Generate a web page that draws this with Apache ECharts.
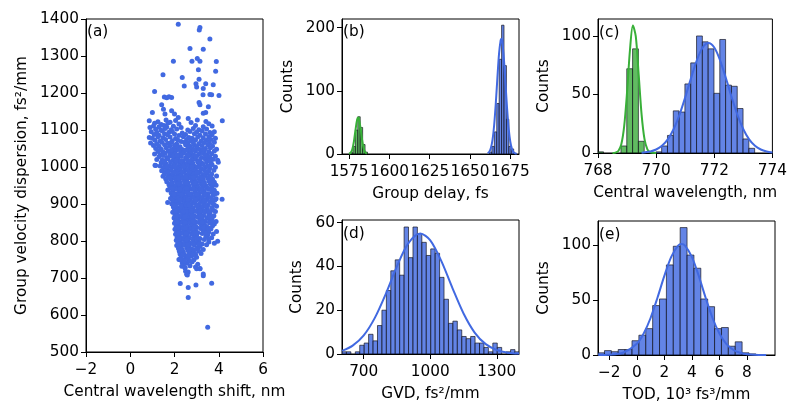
<!DOCTYPE html>
<html><head><meta charset="utf-8">
<script src="https://cdn.jsdelivr.net/npm/echarts@6/dist/echarts.min.js"></script>
<style>html,body{margin:0;padding:0;background:#fff}#c{width:790px;height:405px}</style>
</head><body><div id="c"></div>
<script>
// ---------- DATA ----------
// (a) scatter: central wavelength shift (nm) vs GVD (fs^2/mm)
const scatterOutliers = [[2.17,1386],[3.15,1377],[3.12,1370],[3.6,1346],[2.7,1320],[3.3,1318],[1.95,1286],[2.79,1286],[3.03,1293],[3.15,1286],[3.89,1285],[3.86,1259],[1.48,1249],[3.08,1263],[2.35,1242],[3.11,1237],[2.44,1219],[2.97,1225],[3.0,1216],[3.41,1225],[3.75,1222],[1.1,1204],[3.3,1212],[3.29,1195],[3.6,1196],[3.68,1195],[4.01,1193],[3.11,1174],[3.15,1168],[3.53,1163],[3.41,1147],[3.3,1145],[1.54,1189],[1.65,1187],[1.75,1190],[1.87,1188],[1.42,1168],[1.5,1156],[1.57,1143],[1.0,1147],[1.87,1152],[2.0,1143],[2.17,1134],[2.62,1131],[3.03,1127],[4.16,1125],[3.95,1018],[4.15,913],[1.69,904],[1.15,1004],[2.25,750],[2.33,732],[2.47,728],[2.55,710],[3.0,725],[3.15,725],[3.3,711],[2.26,685],[3.68,686],[2.62,674],[2.97,681],[2.62,647],[3.5,567]];
const scatterBody = [
[0.86,1125],[1.25,1122],[1.62,1127],[1.80,1121],[2.05,1126],[3.42,1123],
[1.10,1118],[1.40,1115],[1.70,1119],[2.20,1116],[2.75,1120],[3.55,1117],
[0.89,1107],[1.05,1111],[1.30,1109],[1.52,1112],[1.65,1108],[1.95,1110],[2.30,1107],[2.95,1112],[3.30,1109],[3.70,1111],
[1.15,1102],[1.38,1100],[1.58,1104],[1.85,1101],[2.10,1103],[2.60,1100],[2.85,1104],[3.10,1101],[3.45,1103],
[0.95,1095],[1.20,1093],[1.45,1097],[1.75,1094],[1.90,1096],[2.35,1092],[2.70,1096],[3.00,1094],[3.25,1097],[3.60,1093],[3.80,1095],
[1.08,1088],[1.30,1086],[1.55,1090],[1.68,1087],[2.00,1089],[2.20,1085],[2.50,1088],[2.90,1090],[3.15,1086],[3.40,1089],[3.70,1087],
[0.86,1080],[1.00,1078],[1.25,1082],[1.48,1079],[1.80,1081],[2.05,1077],[2.40,1082],[2.65,1080],[2.80,1078],[3.05,1081],[3.30,1079],[3.55,1082],[3.85,1078],
[1.12,1072],[1.35,1070],[1.60,1074],[1.90,1071],[2.15,1073],[2.30,1069],[2.55,1074],[2.75,1071],[2.95,1073],[3.20,1070],[3.45,1072],[3.65,1074],
[0.92,1065],[1.20,1063],[1.42,1067],[1.70,1064],[1.85,1066],[2.10,1062],[2.45,1067],[2.60,1064],[2.85,1066],[3.10,1063],[3.35,1066],[3.58,1064],[3.80,1067],
[1.05,1058],[1.30,1056],[1.55,1060],[1.78,1057],[2.00,1059],[2.25,1055],[2.50,1060],[2.70,1057],[2.90,1059],[3.00,1055],[3.25,1058],[3.50,1060],[3.72,1056],
[1.15,1050],[1.40,1048],[1.62,1052],[1.95,1049],[2.12,1051],[2.35,1047],[2.62,1052],[2.80,1049],[3.05,1051],[3.15,1047],[3.40,1050],[3.62,1052],[3.90,1048],
[1.25,1042],[1.50,1040],[1.72,1044],[1.88,1041],[2.05,1043],[2.28,1039],[2.45,1044],[2.68,1041],[2.95,1043],[3.20,1040],[3.35,1044],[3.55,1041],[3.80,1043],
[1.10,1035],[1.35,1033],[1.58,1037],[1.80,1034],[2.00,1036],[2.20,1032],[2.40,1037],[2.58,1034],[2.75,1036],[2.88,1032],[3.10,1035],[3.30,1037],[3.48,1033],[3.68,1036],
[1.30,1028],[1.65,1026],[1.85,1030],[2.08,1027],[2.30,1029],[2.50,1025],[2.65,1030],[2.85,1027],[3.00,1029],[3.22,1026],[3.42,1030],[3.60,1027],[3.85,1029],
[1.20,1020],[1.45,1018],[1.70,1022],[1.95,1019],[2.15,1021],[2.38,1017],[2.55,1022],[2.78,1019],[2.95,1021],[3.15,1018],[3.38,1022],[3.52,1019],[3.75,1021],
[1.40,1012],[1.60,1010],[1.82,1014],[2.02,1011],[2.22,1013],[2.45,1009],[2.60,1014],[2.82,1011],[3.05,1013],[3.25,1010],[3.45,1014],[3.65,1011],[3.98,1013],
[1.12,1005],[1.35,1003],[1.55,1007],[1.78,1004],[1.98,1006],[2.18,1002],[2.35,1007],[2.52,1004],[2.72,1006],[2.90,1002],[3.12,1005],[3.30,1007],[3.50,1003],[3.70,1006],
[1.50,998],[1.68,996],[1.90,1000],[2.10,997],[2.28,999],[2.48,995],[2.68,1000],[2.85,997],[3.00,999],[3.20,996],[3.40,1000],[3.60,997],[3.85,999],
[1.42,990],[1.62,988],[1.85,992],[2.05,989],[2.25,991],[2.42,987],[2.60,992],[2.78,989],[2.95,991],[3.15,988],[3.35,992],[3.55,989],[3.78,991],
[1.55,982],[1.75,980],[1.95,984],[2.15,981],[2.32,983],[2.52,979],[2.70,984],[2.88,981],[3.08,983],[3.28,980],[3.48,984],[3.68,981],
[1.48,975],[1.70,973],[1.92,977],[2.10,974],[2.28,976],[2.45,972],[2.62,977],[2.80,974],[2.98,976],[3.18,973],[3.38,977],[3.58,974],[3.90,976],
[1.60,968],[1.85,966],[2.02,970],[2.20,967],[2.38,969],[2.55,965],[2.72,970],[2.90,967],[3.10,969],[3.30,966],[3.50,970],[3.72,967],
[1.65,960],[1.90,958],[2.08,962],[2.25,959],[2.45,961],[2.62,957],[2.80,962],[2.98,959],[3.15,961],[3.35,958],[3.55,962],[3.80,959],
[1.75,952],[1.95,950],[2.12,954],[2.30,951],[2.48,953],[2.65,949],[2.85,954],[3.02,951],[3.22,953],[3.42,950],[3.62,954],[3.88,951],
[1.80,945],[2.00,943],[2.18,947],[2.35,944],[2.52,946],[2.70,942],[2.88,947],[3.08,944],[3.28,946],[3.48,943],[3.70,947],
[1.70,938],[1.92,936],[2.10,940],[2.28,937],[2.45,939],[2.60,935],[2.78,940],[2.95,937],[3.15,939],[3.35,936],[3.55,940],[3.80,937],
[1.85,930],[2.05,928],[2.22,932],[2.40,929],[2.58,931],[2.75,927],[2.92,932],[3.10,929],[3.30,931],[3.50,928],[3.68,932],[3.92,929],
[1.90,922],[2.08,920],[2.25,924],[2.42,921],[2.60,923],[2.78,919],[2.95,924],[3.12,921],[3.32,923],[3.52,920],[3.75,924],
[1.82,915],[2.02,913],[2.18,917],[2.35,914],[2.52,916],[2.70,912],[2.88,917],[3.05,914],[3.25,916],[3.45,913],[3.65,917],[3.88,914],
[1.95,908],[2.12,906],[2.30,910],[2.48,907],[2.65,909],[2.82,905],[3.00,910],[3.20,907],[3.40,909],[3.60,906],[3.82,910],
[1.88,900],[2.05,898],[2.22,902],[2.40,899],[2.58,901],[2.75,897],[2.92,902],[3.12,899],[3.32,901],[3.52,898],[3.72,902],
[1.95,892],[2.15,890],[2.32,894],[2.50,891],[2.68,893],[2.85,889],[3.05,894],[3.25,891],[3.45,893],[3.68,890],[3.90,894],
[2.00,885],[2.18,883],[2.35,887],[2.52,884],[2.70,886],[2.88,882],[3.08,887],[3.28,884],[3.48,886],[3.75,883],
[1.92,878],[2.10,876],[2.28,880],[2.45,877],[2.62,879],[2.80,875],[2.98,880],[3.18,877],[3.38,879],[3.60,876],[3.85,880],
[2.02,870],[2.20,868],[2.38,872],[2.55,869],[2.72,871],[2.92,867],[3.12,872],[3.32,869],[3.55,871],[3.78,868],
[1.98,862],[2.15,860],[2.32,864],[2.50,861],[2.68,863],[2.85,859],[3.05,864],[3.25,861],[3.48,863],[3.70,860],
[2.05,855],[2.22,853],[2.40,857],[2.58,854],[2.75,856],[2.95,852],[3.15,857],[3.40,854],[3.62,856],[3.88,853],
[2.00,848],[2.18,846],[2.35,850],[2.52,847],[2.70,849],[2.90,845],[3.10,850],[3.35,847],[3.58,849],[3.80,846],
[2.08,840],[2.25,838],[2.42,842],[2.60,839],[2.80,841],[3.00,837],[3.22,842],[3.45,839],[3.72,841],
[2.02,832],[2.20,830],[2.38,834],[2.55,831],[2.72,833],[2.95,829],[3.18,834],[3.42,831],[3.65,833],
[2.10,825],[2.28,823],[2.45,827],[2.62,824],[2.82,826],[3.05,822],[3.30,827],[3.55,824],[3.90,826],
[2.05,818],[2.22,816],[2.40,820],[2.58,817],[2.78,819],[3.00,815],[3.25,820],[3.50,817],[3.75,819],
[2.12,810],[2.30,808],[2.48,812],[2.68,809],[2.90,811],[3.15,807],[3.42,812],[3.68,809],
[2.08,802],[2.25,800],[2.42,804],[2.62,801],[2.85,803],[3.10,799],[3.35,804],[3.95,799],
[2.15,795],[2.32,793],[2.50,797],[2.72,794],[2.98,796],[3.25,792],[3.55,797],[3.80,794],
[2.10,788],[2.28,786],[2.45,790],[2.65,787],[2.90,789],[3.15,785],[3.45,790],
[2.18,780],[2.35,778],[2.55,782],[2.78,779],[3.05,781],[3.30,777],
[2.22,772],[2.40,770],[2.60,774],[2.85,771],[3.10,773],
[2.25,765],[2.45,763],[2.68,767],[2.95,764],[3.20,766],
[2.30,757],[2.52,755],[2.75,759],[3.00,756],
[2.20,750],[2.38,748],[2.62,752],[2.88,749],
[2.35,742],[2.55,740],[2.80,744],
[2.40,735],[2.70,733],[3.05,737],
[2.48,728],[2.95,730],[3.15,726],
[2.50,718],[2.62,716],
[2.58,708],[3.30,706]];
const scatterCore = [
[1.35,1046],[1.85,1045],[2.20,1047],[2.52,1046],[2.88,1045],[3.28,1047],
[1.48,1031],[1.92,1030],[2.12,1032],[2.62,1031],[2.95,1030],[3.40,1032],
[1.55,1016],[2.08,1015],[2.30,1017],[2.68,1016],[3.10,1015],[3.58,1017],
[1.65,1001],[2.00,1000],[2.40,1002],[2.78,1001],[3.08,1000],[3.52,1002],
[1.72,986],[2.00,985],[2.35,987],[2.65,986],[3.02,985],[3.42,987],
[1.78,971],[2.18,970],[2.52,972],[2.85,971],[3.25,970],[3.65,972],
[1.85,956],[2.18,955],[2.55,957],[2.92,956],[3.30,955],[3.72,957],
[1.90,941],[2.25,940],[2.55,942],[2.85,941],[3.20,940],[3.62,942],
[1.98,926],[2.32,925],[2.68,927],[3.02,926],[3.40,925],[3.82,927],
[1.90,911],[2.25,910],[2.60,912],[2.95,911],[3.35,910],[3.72,912],
[2.00,896],[2.30,895],[2.65,897],[3.00,896],[3.40,895],[3.80,897],
[2.05,881],[2.40,880],[2.75,882],[3.15,881],[3.55,880],
[2.10,866],[2.45,865],[2.80,867],[3.20,866],[3.62,865],
[2.12,851],[2.48,850],[2.85,852],[3.25,851],[3.72,850],
[2.15,836],[2.50,835],[2.88,837],[3.30,836],[3.55,835],
[2.18,821],[2.52,820],[2.90,822],[3.40,821],
[2.20,806],[2.55,805],[3.00,807],[3.55,806],
[2.22,791],[2.60,790],[2.85,792],[3.10,791],
[2.28,776],[2.65,775],[2.95,777],
[2.35,761],[2.60,760],[2.85,762],
[2.45,746],[2.70,745]];

// (b) group delay histograms (fs)
const gdBinWidth = 1.5;
const gdGreenStarts = [1575.9,1577.4,1578.9,1580.4,1581.9,1583.4,1584.9];
const gdGreenCounts = [2,12,38,59,42,15,3];
const gdBlueStarts = [1662.1,1663.6,1665.1,1666.6,1668.1,1669.6,1671.1,1672.6,1674.1,1675.6,1677.1];
const gdBlueCounts = [3,12,35,80,150,204,140,55,12,8,1];
const gdGreenCurveX = [1575,1576,1577,1578,1579,1580,1580.6,1581,1582,1583,1584,1585,1586];
const gdGreenCurveY = [0.4,2.1,7.5,20,38.7,54.8,58,56.5,42.6,23.4,9.4,2.8,0.6];
const gdBlueCurveX = [1661,1662,1663,1664,1665,1666,1667,1668,1669,1669.4,1670,1671,1672,1673,1674,1675,1676,1677,1678,1679];
const gdBlueCurveY = [1.2,3.7,9.9,22.7,45.9,79.9,120.8,158.3,180,182,177.4,151.6,112.5,72.4,40.3,19.5,8.2,3.0,0.9,0.25];

// (c) central wavelength histograms (nm)
const cwBinWidth = 0.2;
const cwGreenStarts = [767.99,768.79,768.99,769.19,769.39];
const cwGreenCounts = [1,6,72,89,10];
const cwBlueStarts = [769.99,770.19,770.39,770.59,770.79,770.99,771.19,771.39,771.59,771.79,771.99,772.19,772.39,772.59,772.79,772.99,773.19];
const cwBlueCounts = [1,6,15,36,35,59,77,100,95,89,51,97,58,57,38,12,4];
const cwGreenCurveX = [768.5,768.6,768.7,768.8,768.9,769.0,769.1,769.2,769.3,769.4,769.5,769.6,769.7,769.8,770.0];
const cwGreenCurveY = [0,0.3,1.7,7.2,22.7,52,88,109,99.6,66.7,32.8,11.8,3.1,0.6,0];
const cwBlueCurveX = [769.5,769.8,770.0,770.2,770.4,770.6,770.8,771.0,771.2,771.4,771.6,771.8,772.0,772.2,772.4,772.6,772.8,773.0,773.2,773.4,773.6,773.8,774.0];
const cwBlueCurveY = [0.3,1.3,3.0,6.1,11.6,20.3,32.4,47.5,64,79.2,90.1,94,90.1,79.2,64,47.5,32.4,20.3,11.6,6.1,3.0,1.3,0.5];

// (d) GVD histogram (fs^2/mm)
const gvdBinWidth = 19.95;
const gvdStarts = [602,622,642,662,682,702,722,742,762,782,802,822,842,862,882,902,922,942,962,982,1002,1022,1042,1062,1082,1102,1122,1142,1162,1182,1202,1222,1242,1262,1282,1302,1322,1342,1362,1380];
const gvdCounts = [1,1,0,1,4,5,9,6,13,20,29,38,43,36,58,44,58,55,51,45,48,46,35,25,14,15,11,8,7,8,5,5,3,1,5,3,0,1,2,1];
const gvdCurveX = [602,650,700,750,800,850,900,955,1000,1050,1100,1150,1200,1250,1300,1350,1400];
const gvdCurveY = [1.4,3.8,8.5,16.5,27.6,40.1,50.4,55,51.9,42.4,30.1,18.5,9.8,4.5,1.8,0.6,0.2];

// (e) TOD histogram (10^3 fs^3/mm)
const todBinWidth = 0.5;
const todStarts = [-2.85,-2.35,-1.85,-1.35,-0.85,-0.35,0.15,0.65,1.15,1.65,2.15,2.65,3.15,3.65,4.15,4.65,5.15,5.65,6.15,6.65,7.15,7.65,8.15];
const todCounts = [2,4,3,5,5,13,18,24,45,51,82,99,116,91,79,51,44,24,25,8,12,2,1];
const todCurveX = [-2.8,-2,-1,0,0.5,1,1.5,2,2.5,3,3.25,3.5,4,4.5,5,5.5,6,6.5,7,7.5,8,8.5,9.4];
const todCurveY = [0.04,0.26,2.0,10.2,19.6,33.7,52.1,72,89.4,99.6,101,99.6,89.4,72,52.1,33.7,19.6,10.2,4.8,2.0,0.77,0.26,0.03];

// axis ticks
const aXTicks = [-2,0,2,4,6], aYTicks = [500,600,700,800,900,1000,1100,1200,1300,1400];
const bXTicks = [1575,1600,1625,1650,1675], bYTicks = [0,100,200];
const cXTicks = [768,770,772,774], cYTicks = [0,50,100];
const dXTicks = [700,1000,1300], dYTicks = [0,20,40,60];
const eXTicks = [-2,0,2,4,6,8], eYTicks = [0,50,100];

// ---------- CHART ----------
const FONT = 'DejaVu Sans';
const FS = 15.3;
const BLUE = '#4169e1', BLUE_FILL = 'rgba(65,105,225,0.82)';
const GREEN = '#38b038', GREEN_FILL = 'rgba(44,165,44,0.75)';
const EDGE = 'rgba(20,20,30,0.85)';
const fmt = v => String(v).replace('-', '\u2212');

function xAx(i, min, max, ticks, name, gap) {
  return { type: 'value', gridIndex: i, min, max, name, nameLocation: 'middle', nameGap: gap,
    nameTextStyle: { fontFamily: FONT, fontSize: FS, color: '#000' },
    axisLine: { show: true, onZero: false, lineStyle: { color: '#000', width: 1 } },
    axisTick: { show: true, inside: false, length: 5, customValues: ticks, lineStyle: { color: '#000', width: 1 } },
    axisLabel: { show: true, margin: 11, customValues: ticks, formatter: fmt, fontFamily: FONT, fontSize: FS, color: '#000' },
    splitLine: { show: false } };
}
function yAx(i, min, max, ticks, name, gap) {
  return { type: 'value', gridIndex: i, min, max, name, nameLocation: 'middle', nameGap: gap,
    nameTextStyle: { fontFamily: FONT, fontSize: FS, color: '#000' },
    axisLine: { show: true, onZero: false, lineStyle: { color: '#000', width: 1 } },
    axisTick: { show: true, inside: false, length: 5, customValues: ticks, lineStyle: { color: '#000', width: 1 } },
    axisLabel: { show: true, margin: 7, customValues: ticks, formatter: fmt, fontFamily: FONT, fontSize: FS, color: '#000' },
    splitLine: { show: false } };
}
function hist(i, starts, counts, width, fill) {
  return { type: 'custom', xAxisIndex: i, yAxisIndex: i, clip: true, z: 2,
    data: starts.map((s, k) => [s, s + width, counts[k]]),
    encode: { x: [0, 1], y: 2 },
    renderItem: (params, api) => {
      const h = api.value(2);
      if (!h) return null;
      const a = api.coord([api.value(0), h]);
      const b = api.coord([api.value(1), 0]);
      return { type: 'rect', shape: { x: a[0], y: a[1], width: b[0] - a[0], height: b[1] - a[1] },
        style: { fill: fill, stroke: EDGE, lineWidth: 0.8 } };
    } };
}
function curve(i, xs, ys, color) {
  return { type: 'line', xAxisIndex: i, yAxisIndex: i, z: 3, smooth: 0.3, symbol: 'none', showSymbol: false,
    data: xs.map((x, k) => [x, ys[k]]), lineStyle: { color: color, width: 2 }, silent: true, animation: false };
}
function lbl(t, x, y) {
  return { type: 'text', left: x, top: y, style: { text: t, font: FS + 'px "' + FONT + '"', fill: '#000' }, z: 10 };
}

const chart = echarts.init(document.getElementById('c'), null, { renderer: 'canvas' });
chart.setOption({
  animation: false,
  backgroundColor: '#fff',
  grid: [
    { left: 86, top: 19, width: 177, height: 336, show: true, borderColor: '#000', borderWidth: 1 },
    { left: 342, top: 19, width: 177, height: 135, show: true, borderColor: '#000', borderWidth: 1 },
    { left: 598, top: 19, width: 177, height: 134, show: true, borderColor: '#000', borderWidth: 1 },
    { left: 342, top: 220, width: 177, height: 134, show: true, borderColor: '#000', borderWidth: 1 },
    { left: 598, top: 221, width: 177, height: 134, show: true, borderColor: '#000', borderWidth: 1 }
  ],
  xAxis: [
    xAx(0, -2, 6, aXTicks, 'Central wavelength shift, nm', 33),
    xAx(1, 1570.6, 1680.4, bXTicks, 'Group delay, fs', 33),
    xAx(2, 768, 774, cXTicks, 'Central wavelength, nm', 33),
    xAx(3, 602, 1400, dXTicks, 'GVD, fs\u00b2/mm', 33),
    xAx(4, -2.82, 10.04, eXTicks, 'TOD, 10\u00b3 fs\u00b3/mm', 33)
  ],
  yAxis: [
    yAx(0, 500, 1400, aYTicks, 'Group velocity dispersion, fs\u00b2/mm', 56),
    yAx(1, 0, 213.8, bYTicks, 'Counts', 46),
    yAx(2, 0, 114.5, cYTicks, 'Counts', 46),
    yAx(3, 0, 61.2, dYTicks, 'Counts', 37),
    yAx(4, 0, 122, eYTicks, 'Counts', 46)
  ],
  series: [
    { type: 'scatter', xAxisIndex: 0, yAxisIndex: 0, symbolSize: 5, itemStyle: { color: BLUE, opacity: 1 },
      data: scatterBody.concat(scatterCore, scatterOutliers) },
    hist(1, gdGreenStarts, gdGreenCounts, gdBinWidth, GREEN_FILL),
    hist(1, gdBlueStarts, gdBlueCounts, gdBinWidth, BLUE_FILL),
    curve(1, gdGreenCurveX, gdGreenCurveY, GREEN),
    curve(1, gdBlueCurveX, gdBlueCurveY, BLUE),
    hist(2, cwGreenStarts, cwGreenCounts, cwBinWidth, GREEN_FILL),
    hist(2, cwBlueStarts, cwBlueCounts, cwBinWidth, BLUE_FILL),
    curve(2, cwGreenCurveX, cwGreenCurveY, GREEN),
    curve(2, cwBlueCurveX, cwBlueCurveY, BLUE),
    hist(3, gvdStarts, gvdCounts, gvdBinWidth, BLUE_FILL),
    curve(3, gvdCurveX, gvdCurveY, BLUE),
    hist(4, todStarts, todCounts, todBinWidth, BLUE_FILL),
    curve(4, todCurveX, todCurveY, BLUE)
  ],
  graphic: [lbl('(a)', 87, 25), lbl('(b)', 343, 25), lbl('(c)', 599, 26), lbl('(d)', 343, 227), lbl('(e)', 599, 228)]
});
</script></body></html>
